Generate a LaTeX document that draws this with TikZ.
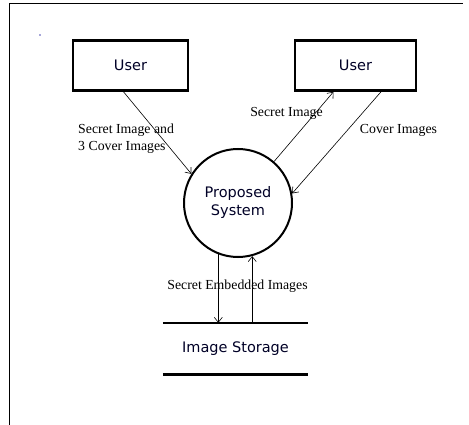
\documentclass[tikz,border=0pt]{standalone}
\usepackage{fontspec}
\setmainfont{Liberation Serif}
\newfontfamily\boxfont{DejaVu Sans}
\usetikzlibrary{arrows.meta,calc}
\begin{document}
\begin{tikzpicture}[x=1pt,y=-1pt,
  entity/.style={draw,line width=2.6pt,minimum width=#1,minimum height=50pt,inner sep=0pt,
    font=\boxfont\fontsize{14.5}{17}\selectfont,text=black!85!blue},
  proc/.style={draw,circle,line width=2pt,minimum size=108pt,inner sep=0pt,align=center,
    font=\boxfont\fontsize{14.5}{18}\selectfont,text=black!85!blue},
  store/.style={minimum width=145pt,minimum height=51pt,inner sep=0pt,
    font=\boxfont\fontsize{14.5}{17}\selectfont,text=black!85!blue},
  flow/.style={line width=0.6pt,-{Straight Barb[length=5pt,width=8pt]}},
  lbl/.style={font=\fontsize{13.8}{17}\selectfont,inner sep=0pt}]
\useasboundingbox (0,0) rectangle (469,425);
\draw[line width=1pt] (9,425) -- (9,4) -- (463,4);
\fill[blue!40!gray] (40,35) circle (0.8pt);

\node[entity=115pt] (u1) at (130.5,65.5) {User};
\node[entity=121pt] (u2) at (355.5,65.5) {User};
\node[proc] (sys) at (238,203) {Proposed\\System};
\node[store] (st) at (235.5,348.5) {Image Storage};
\draw[line width=2.6pt] (st.north west) -- (st.north east);
\draw[line width=2.6pt] (st.south west) -- (st.south east);

\draw[flow] ($(u1.south)+(-7,0)$) -- (sys.148);
\draw[flow] (sys.49) -- ($(u2.south)+(-22,0)$);
\draw[flow] ($(u2.south)+(25.5,0)$) -- (sys.10);
\draw[flow] (sys.249) -- (sys.249 |- st.north);
\draw[flow] (sys.285 |- st.north) -- (sys.285);

\node[lbl,anchor=west,align=left] (l1) at (78,138.5) {Secret Image and\\3 Cover Images};
\node[lbl] (l2) at (286.5,113) {Secret Image};
\node[lbl] (l3) at (398.5,130) {Cover Images};
\node[lbl] (l4) at (237.5,286) {Secret Embedded Images};
\end{tikzpicture}
\end{document}
